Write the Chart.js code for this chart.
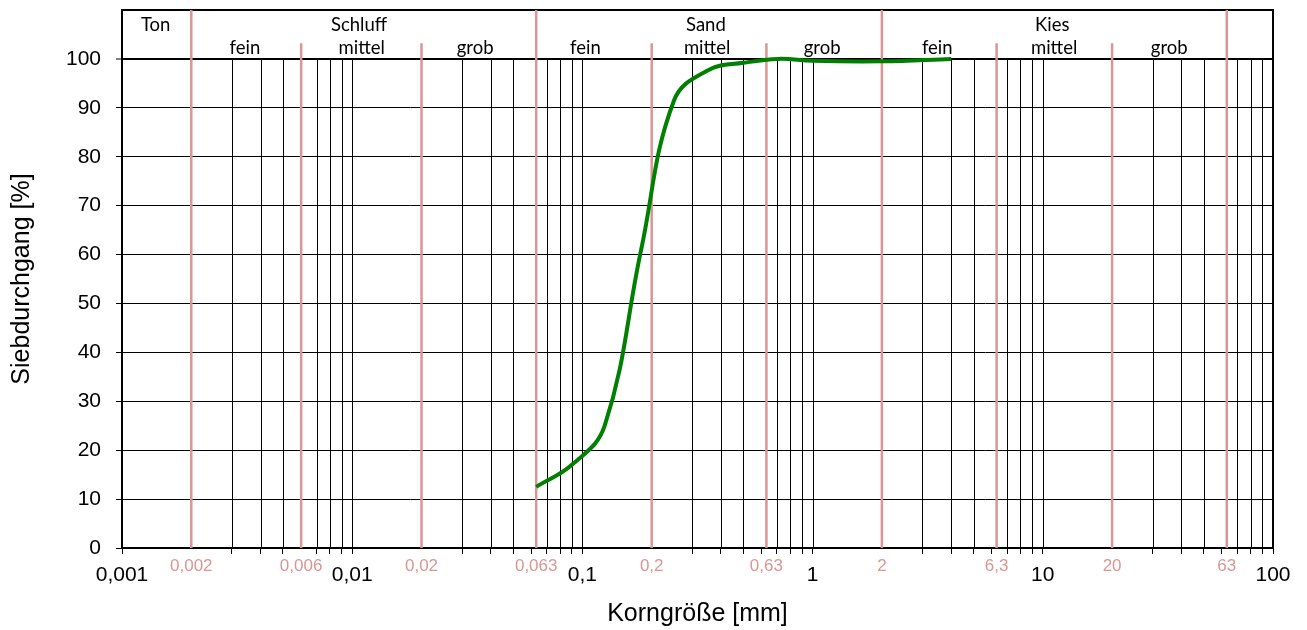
<!DOCTYPE html>
<html>
<head>
<meta charset="utf-8">
<script src="https://cdn.jsdelivr.net/npm/chart.js@4/dist/chart.umd.min.js"></script>
<style>
  html, body { margin: 0; padding: 0; background: #ffffff; }
  #wrap { width: 1307px; height: 630px; }
</style>
</head>
<body>
<div id="wrap"><canvas id="c" width="1307" height="630"></canvas></div>
<script>
// ---------- data ----------
const grainSizes = [0.063, 0.09, 0.125, 0.18, 0.25, 0.355, 0.5, 0.71, 1, 2, 4];
const passing    = [12.5, 17.0, 25.0, 61.0, 91.5, 97.8, 99.2, 100.0, 99.6, 99.5, 100.0];

const decadeValues = [0.001, 0.01, 0.1, 1, 10, 100];
const decadeLabels = ['0,001', '0,01', '0,1', '1', '10', '100'];

const boundaryValues = [0.002, 0.006, 0.02, 0.063, 0.2, 0.63, 2, 6.3, 20, 63];
const boundaryLabels = ['0,002', '0,006', '0,02', '0,063', '0,2', '0,63', '2', '6,3', '20', '63'];
const mainBoundaries = [0.002, 0.063, 2, 63];

const gridMultipliers = [1, 3, 4, 5, 7, 8, 9];
const tickMultipliers = [1, 2, 3, 4, 5, 6, 7, 8, 9];

const groupLabels  = ['Ton', 'Schluff', 'Sand', 'Kies'];
const groupCenters = [0.0014, 0.0107, 0.344, 11.0];
const subLabels    = ['fein', 'mittel', 'grob', 'fein', 'mittel', 'grob', 'fein', 'mittel', 'grob'];
const subCenters   = [0.00342, 0.011, 0.0342, 0.103, 0.348, 1.10, 3.48, 11.2, 35.4];

const yMax = 110;
const yTop = 100;
const subLineTop = 103.2;

// ---------- helpers ----------
const PINK = '#DA9694';
const tickValues = [];
decadeValues.slice(0, -1).forEach(d => tickMultipliers.forEach(m => tickValues.push(Number((d * m).toPrecision(6)))));
tickValues.push(100);
const gridValues = [];
decadeValues.slice(0, -1).forEach(d => gridMultipliers.forEach(m => gridValues.push(Number((d * m).toPrecision(6)))));

function near(a, b) { return Math.abs(a - b) <= Math.abs(b) * 1e-6; }

const overlay = {
  id: 'overlay',
  beforeDatasetsDraw(chart) {
    const {ctx, scales: {x, y}} = chart;
    ctx.save();
    ctx.strokeStyle = '#000';
    ctx.lineWidth = 1;
    gridValues.forEach(v => {
      if (v <= 0.001) return;
      const px = Math.round(x.getPixelForValue(v)) + 0.5;
      ctx.beginPath();
      ctx.moveTo(px, y.getPixelForValue(0));
      ctx.lineTo(px, y.getPixelForValue(yTop));
      ctx.stroke();
    });
    ctx.strokeStyle = PINK;
    ctx.lineWidth = 2.5;
    boundaryValues.forEach(v => {
      const px = x.getPixelForValue(v);
      const top = mainBoundaries.some(b => near(v, b)) ? yMax : subLineTop;
      ctx.beginPath();
      ctx.moveTo(px, y.getPixelForValue(0));
      ctx.lineTo(px, y.getPixelForValue(top));
      ctx.stroke();
    });
    ctx.strokeStyle = '#000';
    ctx.lineWidth = 2;
    const rx = x.getPixelForValue(100);
    ctx.beginPath();
    ctx.moveTo(rx, y.getPixelForValue(yMax) - 1);
    ctx.lineTo(rx, y.getPixelForValue(0));
    ctx.stroke();
    ctx.restore();
  },
  afterDraw(chart) {
    const {ctx, scales: {x, y}} = chart;
    ctx.save();
    ctx.fillStyle = PINK;
    ctx.font = '17px "Liberation Sans", Arial, sans-serif';
    ctx.textAlign = 'center';
    ctx.textBaseline = 'middle';
    const yLab = y.getPixelForValue(0) + 18;
    boundaryValues.forEach((v, i) => {
      ctx.fillText(boundaryLabels[i], x.getPixelForValue(v), yLab);
    });
    ctx.fillStyle = '#000';
    ctx.font = '18.5px Lato, "Open Sans", sans-serif';
    ctx.textBaseline = 'alphabetic';
    const topPx = y.getPixelForValue(yMax);
    groupLabels.forEach((t, i) => ctx.fillText(t, x.getPixelForValue(groupCenters[i]), topPx + 20.5));
    subLabels.forEach((t, i) => ctx.fillText(t, x.getPixelForValue(subCenters[i]), topPx + 43.5));
    ctx.restore();
  }
};

new Chart(document.getElementById('c'), {
  type: 'line',
  data: {
    datasets: [{
      data: grainSizes.map((g, i) => ({x: g, y: passing[i]})),
      borderColor: '#008000',
      borderWidth: 4,
      pointRadius: 0,
      tension: 0.4,
      fill: false
    }]
  },
  options: {
    responsive: false,
    animation: false,
    devicePixelRatio: 1,
    layout: { padding: { left: 0, right: 34, top: 10, bottom: 0 } },
    plugins: { legend: { display: false }, tooltip: { enabled: false } },
    scales: {
      x: {
        type: 'logarithmic',
        position: 'bottom',
        min: 0.001,
        max: 100,
        afterBuildTicks: s => { s.ticks = tickValues.map(v => ({value: v})); },
        afterFit: s => { s.height = 82; },
        ticks: {
          autoSkip: false,
          maxRotation: 0,
          minRotation: 0,
          padding: 9,
          color: '#000',
          font: { family: '"Liberation Sans", Arial, sans-serif', size: 21 },
          callback: (v) => {
            const i = decadeValues.findIndex(d => near(v, d));
            return i >= 0 ? decadeLabels[i] : '';
          }
        },
        grid: {
          drawOnChartArea: false,
          drawTicks: true,
          tickLength: 6,
          tickWidth: 1,
          tickColor: (ctx) => {
            const v = ctx.tick ? ctx.tick.value : 0;
            return boundaryValues.some(b => near(v, b)) || [0.002,0.02,0.2,2,20].some(b => near(v, b)) ? 'rgba(0,0,0,0)' : '#000';
          }
        },
        border: { display: true, color: '#000', width: 2 },
        title: {
          display: true,
          text: 'Korngröße [mm]',
          color: '#000',
          font: { family: '"Liberation Sans", Arial, sans-serif', size: 25 },
          padding: { top: 0, bottom: 1 }
        }
      },
      y: {
        type: 'linear',
        min: 0,
        max: yMax,
        afterFit: s => { s.width = 122; s.paddingTop = 0; s.paddingBottom = 0; },
        ticks: {
          stepSize: 10,
          padding: 15,
          color: '#000',
          font: { family: '"Liberation Sans", Arial, sans-serif', size: 21 },
          callback: v => (v > yTop ? '' : String(v))
        },
        grid: {
          color: '#000',
          lineWidth: ctx => (ctx.tick && ctx.tick.value >= yTop ? 2 : 1),
          tickLength: 6,
          tickColor: ctx => (ctx.tick && ctx.tick.value > yTop ? 'rgba(0,0,0,0)' : '#000'),
          tickWidth: 1
        },
        border: { display: true, color: '#000', width: 2 },
        title: {
          display: true,
          text: 'Siebdurchgang [%]',
          color: '#000',
          font: { family: '"Liberation Sans", Arial, sans-serif', size: 25 },
          padding: { top: 7, bottom: 0 }
        }
      }
    }
  },
  plugins: [overlay]
});
</script>
</body>
</html>
